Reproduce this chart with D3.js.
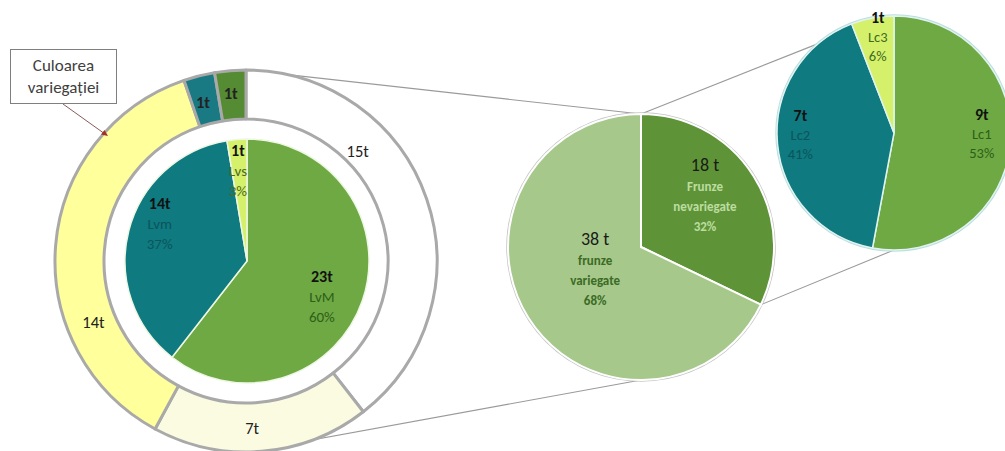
<!DOCTYPE html>
<html>
<head>
<meta charset="utf-8">
<script src="https://cdn.jsdelivr.net/npm/d3@7"></script>
<style>
  body { margin: 0; background: #fff; }
  svg { display: block; }
  text { font-family: Carlito, Lato, "Liberation Sans", sans-serif; }
</style>
</head>
<body>
<svg id="chart" width="1005" height="451"></svg>
<script>
// --- data ---
const ringValues = [15, 7, 14, 1, 1];            // culoarea variegatiei (t)
const innerCats = ["LvM", "Lvm", "Lvs"];
const innerValues = [23, 14, 1];
const innerPct = ["60%", "37%", "3%"];
const splitCats = ["Frunze nevariegate", "frunze variegate"];
const splitValues = [18, 38];
const splitPct = ["32%", "68%"];
const subCats = ["Lc1", "Lc2", "Lc3"];
const subValues = [9, 7, 1];
const subPct = ["53%", "41%", "6%"];

const svg = d3.select("#chart");
const W = +svg.attr("width"), H = +svg.attr("height");
svg.append("rect").attr("width", W).attr("height", H).attr("fill", "#fff");

const pie = d3.pie().sort(null).value(d => d);
const deg = Math.PI / 180;
const polar = (cx, cy, r, a) => [cx + r * Math.sin(a), cy - r * Math.cos(a)];

// --- layout / style ---
const ring = { cx: 246, cy: 261, r0: 142, r1: 191,
  colors: ["#ffffff", "#fbfbe2", "#ffff9c", "#1a7a83", "#548b33"],
  labelR: [0.82, 0.875, 0.86, 0.86, 0.88], labelT: [0.32, 0.54, 0.3, 0.4, 0.45] };
const inner = { cx: 247, cy: 261, r: 122,
  colors: ["#6ea944", "#0f7a80", "#d5f06b"],
  text: ["#2f5e17", "#0a555b", "#4d6a20"],
  labelR: [0.68, 0.78, 0.75], labelT: [0.53, 0.57, 0.4] };
const mid = { cx: 641, cy: 247, r: 133,
  colors: ["#5e9437", "#a6c88a"],
  text: ["#bcdca0", "#3b6b25"],
  labelR: [0.62, 0.38], labelT: [0.44, 0.53] };
const sub = { cx: 894, cy: 133, r: 117,
  colors: ["#6ea944", "#0f7a80", "#d5f06b"],
  text: ["#2f5e17", "#0a555b", "#3d6b22"],
  labelR: [0.75, 0.8, 0.84], labelT: [0.475, 0.53, 0.55] };

// multi-line label centred on a point
function label(x, y, lines, sizes, colors, weights, lh) {
  const t = svg.append("text").attr("text-anchor", "middle");
  const y0 = y - (lines.length - 1) * lh / 2 + sizes[0] * 0.35;
  lines.forEach((s, i) => {
    t.append("tspan").attr("x", x).attr("y", y0 + i * lh)
      .attr("font-size", sizes[i]).attr("fill", colors[i])
      .attr("font-weight", weights[i]).text(s);
  });
}
function labelPos(c, d, i, R) {
  const a = d.startAngle + c.labelT[i] * (d.endAngle - d.startAngle);
  return polar(c.cx, c.cy, c.labelR[i] * R, a);
}

const ringArcs = pie(ringValues);
const midArcs = pie(splitValues);
const subArcs = pie(subValues);
const innerArcs = pie(innerValues);

// --- connector lines ---
const conn = [
  [polar(ring.cx, ring.cy, ring.r1, 0), polar(mid.cx, mid.cy, mid.r, 0)],
  [polar(ring.cx, ring.cy, ring.r1, Math.PI), polar(mid.cx, mid.cy, mid.r, Math.PI)],
  [polar(mid.cx, mid.cy, mid.r, midArcs[0].startAngle), polar(sub.cx, sub.cy, sub.r, 320 * deg)],
  [polar(mid.cx, mid.cy, mid.r, midArcs[0].endAngle), polar(sub.cx, sub.cy, sub.r, 180 * deg)]
];
svg.selectAll("line.conn").data(conn).join("line").attr("class", "conn")
  .attr("x1", d => d[0][0]).attr("y1", d => d[0][1])
  .attr("x2", d => d[1][0]).attr("y2", d => d[1][1])
  .attr("stroke", "#9a9a9a").attr("stroke-width", 1.1);

// --- outer ring ---
const ringArc = d3.arc().innerRadius(ring.r0).outerRadius(ring.r1);
svg.append("g").attr("transform", `translate(${ring.cx},${ring.cy})`)
  .selectAll("path").data(ringArcs).join("path")
  .attr("d", ringArc).attr("fill", (d, i) => ring.colors[i])
  .attr("stroke", "#a9a9a9").attr("stroke-width", 3).attr("stroke-linejoin", "round");
ringArcs.forEach((d, i) => {
  const [x, y] = labelPos(ring, d, i, ring.r1);
  label(x, y, [d.value + "t"], [16.5], ["#222"], [i >= 3 ? 600 : 400], 18);
});

// --- inner pie ---
const innerArc = d3.arc().innerRadius(0).outerRadius(inner.r);
svg.append("g").attr("transform", `translate(${inner.cx},${inner.cy})`)
  .selectAll("path").data(innerArcs).join("path")
  .attr("d", innerArc).attr("fill", (d, i) => inner.colors[i])
  .attr("stroke", "#eef7e4").attr("stroke-width", 1.5);
innerArcs.forEach((d, i) => {
  const [x, y] = labelPos(inner, d, i, inner.r);
  label(x, y, [d.value + "t", innerCats[i], innerPct[i]], [16, 15, 15],
    ["#111", inner.text[i], inner.text[i]], [700, 400, 400], 20);
});

// --- middle pie ---
const midArc = d3.arc().innerRadius(0).outerRadius(mid.r);
const mg = svg.append("g").attr("transform", `translate(${mid.cx},${mid.cy})`);
mg.append("circle").attr("r", mid.r + 1).attr("fill", "none").attr("stroke", "#c4c4c4").attr("stroke-width", 1.5);
mg.selectAll("path").data(midArcs).join("path")
  .attr("d", midArc).attr("fill", (d, i) => mid.colors[i])
  .attr("stroke", "#fff").attr("stroke-width", 2);
midArcs.forEach((d, i) => {
  const [x, y] = labelPos(mid, d, i, mid.r);
  const lines = [d.value + " t", ...splitCats[i].split(" "), splitPct[i]];
  label(x, y, lines, [18, 13, 13, 13],
    ["#1a1a1a", mid.text[i], mid.text[i], mid.text[i]], [400, 600, 600, 600], 20);
});

// --- right pie ---
const subArc = d3.arc().innerRadius(0).outerRadius(sub.r);
const sg = svg.append("g").attr("transform", `translate(${sub.cx},${sub.cy})`);
sg.append("circle").attr("r", sub.r + 1).attr("fill", "none").attr("stroke", "#bcdede").attr("stroke-width", 1.5);
sg.selectAll("path").data(subArcs).join("path")
  .attr("d", subArc).attr("fill", (d, i) => sub.colors[i])
  .attr("stroke", "#dff3f0").attr("stroke-width", 1.5);
subArcs.forEach((d, i) => {
  const [x, y] = labelPos(sub, d, i, sub.r);
  label(x, y, [d.value + "t", subCats[i], subPct[i]], [16, 14.5, 14.5],
    ["#111", sub.text[i], sub.text[i]], [700, 400, 400], 19);
});

// --- callout box ---
svg.append("line").attr("x1", 63).attr("y1", 104).attr("x2", 105).attr("y2", 134)
  .attr("stroke", "#8a5a5a").attr("stroke-width", 1);
svg.append("path").attr("d", "M108,136 l-7,-1.5 l3.5,-4.5 z").attr("fill", "#a3302b");
svg.append("rect").attr("x", 10.5).attr("y", 49.5).attr("width", 106).attr("height", 54)
  .attr("fill", "#fff").attr("stroke", "#7f7f7f").attr("stroke-width", 1);
label(63.5, 76.5, ["Culoarea", "variegației"], [17, 17], ["#404040", "#404040"], [400, 400], 22);
</script>
</body>
</html>
